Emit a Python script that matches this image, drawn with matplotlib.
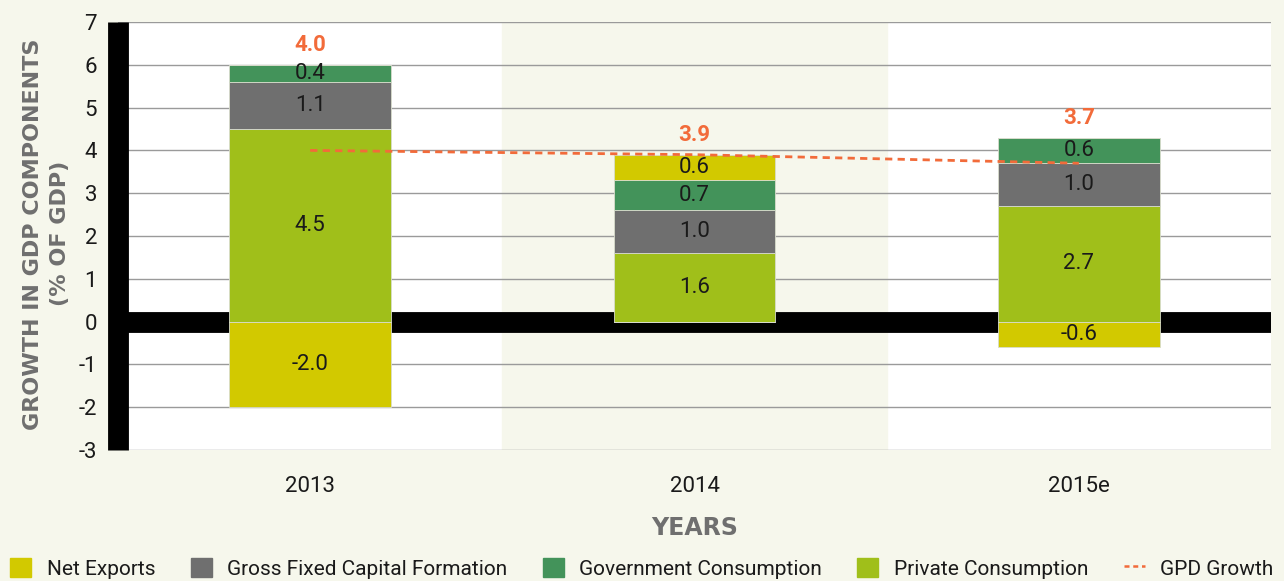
import matplotlib
matplotlib.use("Agg")
import matplotlib.pyplot as plt
import numpy as np
from matplotlib.patches import Patch
from matplotlib.lines import Line2D

plt.rcParams['font.family'] = ['Roboto', 'DejaVu Sans']
plt.rcParams['axes.unicode_minus'] = False
FS = 16
LFS = 15

years = ["2013", "2014", "2015e"]
net_exports = [-2.0, 0.6, -0.6]
gfcf = [1.1, 1.0, 1.0]
gov_cons = [0.4, 0.7, 0.6]
priv_cons = [4.5, 1.6, 2.7]
gdp_growth = [4.0, 3.9, 3.7]

c_net = "#d2c900"
c_gfcf = "#6f6f6f"
c_gov = "#43935a"
c_priv = "#a0bf1a"
c_gdp = "#f26b3a"
bg = "#f6f7ec"
txt = "#1a1a1a"

fig = plt.figure(figsize=(12.84, 5.81), dpi=100, facecolor=bg)
ax = fig.add_axes([118 / 1284, 1 - 450 / 581, 1153 / 1284, 428 / 581])
ax.set_facecolor("white")

x = np.arange(len(years))
w = 0.42

ax.axvspan(0.5, 1.5, color=bg, zorder=0)
for v in range(-3, 8):
    ax.axhline(v, color="#9a9a9a", lw=1.0, zorder=1)

# black zero line and y axis band
ax.axhline(0, color="black", lw=15, zorder=2, solid_capstyle="butt")
ax.axvline(-0.5, color="black", lw=15, zorder=2, clip_on=False, solid_capstyle="butt")

bottom = np.zeros(len(x))
neg_bottom = np.zeros(len(x))
series = [(priv_cons, c_priv), (gfcf, c_gfcf), (gov_cons, c_gov), (net_exports, c_net)]
for vals, col in series:
    vals = np.array(vals)
    pos = np.where(vals > 0, vals, 0)
    neg = np.where(vals < 0, vals, 0)
    ax.bar(x, pos, w, bottom=bottom, color=col, edgecolor="#d8dccc", lw=0.6, zorder=3)
    ax.bar(x, neg, w, bottom=neg_bottom, color=col, edgecolor="#d8dccc", lw=0.6, zorder=3)
    for i in range(len(x)):
        if vals[i] > 0:
            ax.text(x[i], bottom[i] + vals[i] / 2, f"{vals[i]:.1f}", ha="center", va="center",
                    fontsize=FS, color=txt, zorder=5)
        elif vals[i] < 0:
            ax.text(x[i], neg_bottom[i] + vals[i] / 2, f"{vals[i]:.1f}", ha="center", va="center",
                    fontsize=FS, color=txt, zorder=5)
    bottom += pos
    neg_bottom += neg

ax.plot(x, gdp_growth, color=c_gdp, lw=2.0, linestyle=(0, (2.6, 1.9)), zorder=4)
for i in range(len(x)):
    ax.annotate(f"{gdp_growth[i]:.1f}", (x[i], bottom[i]), xytext=(0, 6), textcoords="offset points",
                ha="center", va="bottom", fontsize=FS, fontweight="bold", color=c_gdp, zorder=5)

ax.set_xlim(-0.5, 2.5)
ax.set_ylim(-3, 7)
ax.set_yticks(range(-3, 8))
ax.set_xticks(x)
ax.set_xticklabels(years)
ax.tick_params(axis="both", length=0, labelsize=FS, colors=txt)
ax.tick_params(axis="y", pad=15)
ax.tick_params(axis="x", pad=19)
for s in ax.spines.values():
    s.set_visible(False)

ax.set_ylabel("GROWTH IN GDP COMPONENTS\n(% OF GDP)", fontsize=16, fontweight="bold",
              color="#6f6f6f", family="DejaVu Sans", linespacing=1.45)
ax.yaxis.set_label_coords(-0.0416, 0.505)
ax.set_xlabel("YEARS", fontsize=17, fontweight="bold", color="#6f6f6f", family="DejaVu Sans")
ax.xaxis.set_label_coords(0.5, -0.155)

handles = [Patch(color=c_net), Patch(color=c_gfcf), Patch(color=c_gov), Patch(color=c_priv),
           Line2D([], [], color=c_gdp, lw=1.8, linestyle=(0, (2.0, 1.5)))]
labels = ["Net Exports", "Gross Fixed Capital Formation", "Government Consumption",
          "Private Consumption", "GPD Growth"]
fig.legend(handles, labels, loc="lower left", bbox_to_anchor=(0, -0.014), ncol=5,
           frameon=False, fontsize=LFS, handlelength=1.0, handleheight=1.0,
           handletextpad=0.75, columnspacing=1.7, borderpad=0, labelcolor=txt)

fig.savefig("out.png", dpi=100, facecolor=bg)
